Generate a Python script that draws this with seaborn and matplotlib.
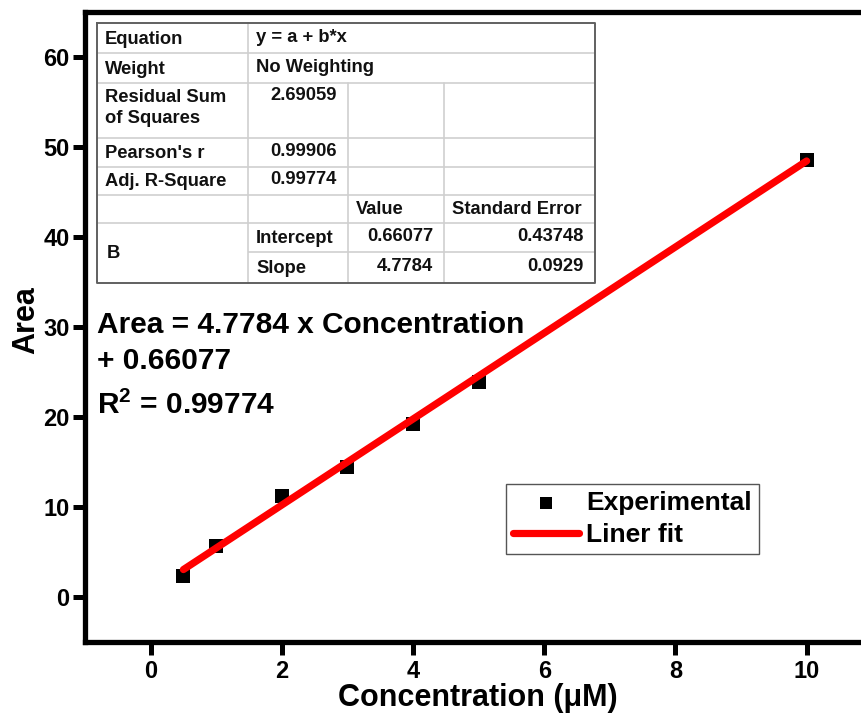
import matplotlib
matplotlib.use("Agg")
import matplotlib.pyplot as plt
import seaborn as sns
import pandas as pd
import numpy as np
from matplotlib import font_manager

# ---- data ----
conc = [0.5, 1, 2, 3, 4, 5, 10]
area = [2.3, 5.7, 11.25, 14.4, 19.2, 23.9, 48.6]
intercept = 0.66077
slope = 4.7784
x_ticks = [0, 2, 4, 6, 8, 10]
y_ticks = [0, 10, 20, 30, 40, 50, 60]

table_rows = [
    ["Equation", "y = a + b*x", "", ""],
    ["Weight", "No Weighting", "", ""],
    ["Residual Sum\nof Squares", "2.69059", "", ""],
    ["Pearson's r", "0.99906", "", ""],
    ["Adj. R-Square", "0.99774", "", ""],
    ["", "", "Value", "Standard Error"],
    ["B", "Intercept", "0.66077", "0.43748"],
    ["", "Slope", "4.7784", "0.0929"],
]


def pick(fams):
    for f in fams:
        try:
            font_manager.findfont(font_manager.FontProperties(family=f, weight="bold"),
                                  fallback_to_default=False)
            return f
        except Exception:
            pass
    return "DejaVu Sans"


sns.set_theme(style="white")
main_font = pick(["Liberation Sans Narrow", "Liberation Sans", "Arimo"])
table_font = pick(["Liberation Sans", "Arimo"])
plt.rcParams["font.family"] = [main_font, "DejaVu Sans"]
plt.rcParams["font.weight"] = "bold"
plt.rcParams["text.color"] = "black"
plt.rcParams["axes.labelcolor"] = "black"
plt.rcParams["xtick.color"] = "black"
plt.rcParams["ytick.color"] = "black"
plt.rcParams["mathtext.fontset"] = "custom"
plt.rcParams["mathtext.bf"] = f"{main_font}:bold"
plt.rcParams["mathtext.rm"] = f"{main_font}:bold"

W, H = 862, 717
fig = plt.figure(figsize=(W / 100, H / 100), dpi=100)
fig.patch.set_facecolor("white")

# axes geometry in pixels
ax_l, ax_t, ax_b = 85, 12, 642
px_per_x = 65.6
ax_w = 12 * px_per_x
ax_h = ax_b - ax_t
ax = fig.add_axes([ax_l / W, (H - ax_b) / H, ax_w / W, ax_h / H])
ax.set_facecolor("white")

df = pd.DataFrame({"conc": conc, "area": area})
df["fit"] = intercept + slope * df["conc"]

sns.scatterplot(data=df, x="conc", y="area", marker="s", s=105, color="black",
                edgecolor="black", linewidth=0, label="Experimental", ax=ax, zorder=3)
sns.lineplot(data=df, x="conc", y="fit", color="#ff0000", linewidth=5.2,
             label="Liner fit", ax=ax, zorder=4, solid_capstyle="round")

ax.set_xlim(-1, 11)
ax.set_ylim(-5, 65)
ax.set_xticks(x_ticks)
ax.set_yticks(y_ticks)
ax.set_xticklabels([str(v) for v in x_ticks], fontsize=17, fontweight="bold", color="black")
ax.set_yticklabels([str(v) for v in y_ticks], fontsize=17, fontweight="bold", color="black")
ax.tick_params(axis="both", which="both", direction="out", length=9, width=3.6,
               color="black", pad=2, bottom=True, left=True, top=False, right=False)
ax.tick_params(axis="x", pad=4)
for s in ax.spines.values():
    s.set_visible(True)
    s.set_color("black")
    s.set_linewidth(3.8)
ax.grid(False)

ax.set_xlabel("Concentration (\u03bcM)", fontsize=22, fontweight="bold", color="black")
ax.set_ylabel("Area", fontsize=22, fontweight="bold", color="black")
ax.xaxis.label.set_va("center")
ax.yaxis.label.set_va("center")
ax.xaxis.set_label_coords((478 - ax_l) / ax_w, -(698 - ax_b) / ax_h, transform=ax.transAxes)
ax.yaxis.set_label_coords(-(ax_l - 26) / ax_w, (ax_b - 320) / ax_h, transform=ax.transAxes)

leg = ax.legend(loc="upper left",
                bbox_to_anchor=((506 - ax_l) / ax_w, (ax_b - 484) / ax_h),
                borderaxespad=0, frameon=True, fancybox=False, framealpha=1,
                edgecolor="#555555", prop={"size": 19, "weight": "bold"},
                handlelength=2.5, handletextpad=0.3, labelspacing=0.32,
                borderpad=0.25, markerscale=0.8)
leg.get_frame().set_linewidth(1.0)
for t in leg.get_texts():
    t.set_color("black")

# overlay for table and equation (pixel coordinates)
ov = fig.add_axes([0, 0, 1, 1], zorder=10)
ov.set_xlim(0, W)
ov.set_ylim(H, 0)
ov.axis("off")
ov.patch.set_alpha(0)

cols = [97, 248, 348, 444, 595]
rows = [23, 53, 83, 138, 167, 195, 223, 252, 283]
light = "#cfcfcf"
dark = "#606060"
lw_in = 1.2

for i, y in enumerate(rows[1:-1], start=1):
    x0 = cols[1] if i == 7 else cols[0]
    ov.plot([x0, cols[-1]], [y, y], color=light, lw=lw_in, solid_capstyle="butt")
ov.plot([cols[1], cols[1]], [rows[0], rows[-1]], color=light, lw=lw_in)
for c in cols[2:4]:
    ov.plot([c, c], [rows[2], rows[-1]], color=light, lw=lw_in)
ov.plot([cols[0], cols[-1], cols[-1], cols[0], cols[0]],
        [rows[0], rows[0], rows[-1], rows[-1], rows[0]], color=dark, lw=1.4)

tf = {"family": [table_font, "DejaVu Sans"], "size": 13.2, "weight": "bold", "color": "#111111"}
lpad = 8
rpad = 11
for r, row in enumerate(table_rows):
    top, bot = rows[r], rows[r + 1]
    cy = (top + bot) / 2 + 1
    for c, txt in enumerate(row):
        if not txt:
            continue
        if c == 0:
            if txt == "B":
                ov.text(cols[0] + lpad + 2, rows[7] + 1, txt, ha="left", va="center", **tf)
            elif "\n" in txt:
                ov.text(cols[0] + lpad, top + 6, txt, ha="left", va="top", linespacing=1.3, **tf)
            else:
                ov.text(cols[0] + lpad, cy, txt, ha="left", va="center", **tf)
        elif r <= 1:
            ov.text(cols[1] + lpad, cy - 1, txt, ha="left", va="center", **tf)
        elif r == 5:
            ov.text(cols[c] + lpad, cy, txt, ha="left", va="center", **tf)
        elif r >= 6 and c == 1:
            ov.text(cols[1] + lpad, cy, txt, ha="left", va="center", **tf)
        else:
            yy = top + 13 if r == 2 else cy - 2
            ov.text(cols[c + 1] - rpad, yy, txt, ha="right", va="center", **tf)

eq = {"size": 21.5, "weight": "bold", "color": "black"}
ov.text(97, 325, f"Area = {slope} x Concentration", ha="left", va="center", **eq)
ov.text(97, 361, f"+ {intercept}", ha="left", va="center", **eq)
ov.text(97, 405, r"R$^{\mathbf{2}}$ = 0.99774", ha="left", va="center", **eq)

fig.savefig("out.png", dpi=100, facecolor="white")
